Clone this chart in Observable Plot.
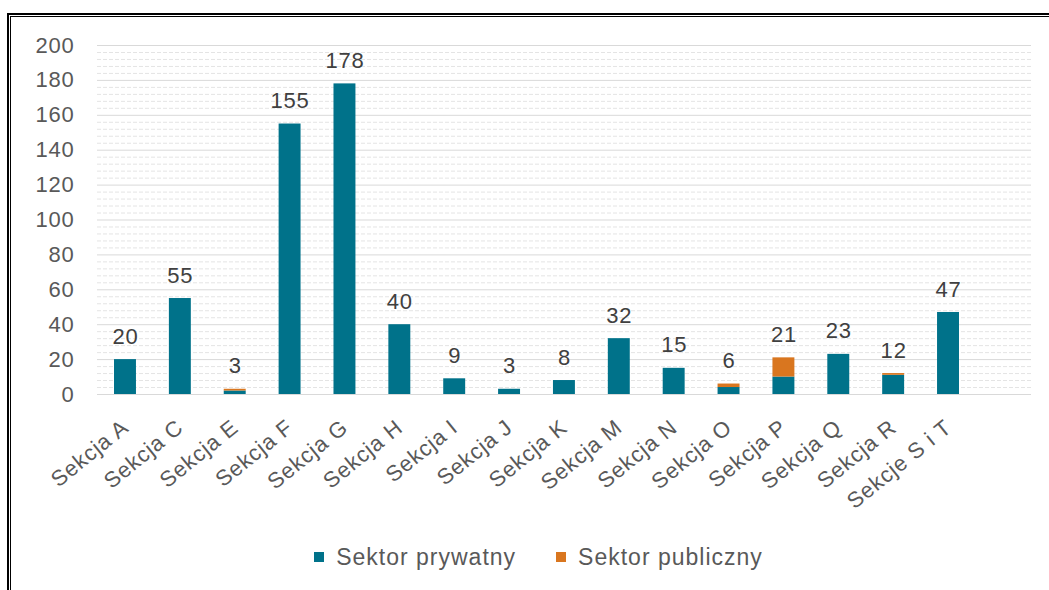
<!DOCTYPE html>
<html>
<head>
<meta charset="utf-8">
<script src="https://cdn.jsdelivr.net/npm/d3@7"></script>
<script src="https://cdn.jsdelivr.net/npm/@observablehq/plot@0.6"></script>
<style>
  html, body { margin: 0; padding: 0; background: #fff; overflow: hidden; width: 1049px; height: 590px; }
  #frame1 { position: absolute; left: 7px; top: 13px; width: 1100px; height: 700px; border-top: 2px solid #000; border-left: 2px solid #000; }
  #frame2 { position: absolute; left: 1px; top: 1px; width: 1100px; height: 700px; border-top: 1px solid #000; border-left: 1px solid #000; }
  #chart { position: absolute; left: 0; top: 0; }
  #chart svg text { letter-spacing: 0.8px; }
  #legend { position: absolute; left: 0; top: 540px; width: 1049px; height: 34px; display: flex; justify-content: center; align-items: center; padding-left: 28px; box-sizing: border-box; font-family: "Liberation Sans", Arial, sans-serif; font-size: 23px; color: #595959; letter-spacing: 1px; }
  .item { display: flex; align-items: center; margin: 0 20px; }
  .sw { width: 10px; height: 10px; margin-right: 12px; }
</style>
</head>
<body>
<div id="frame1"><div id="frame2"></div></div>
<div id="chart"></div>
<div id="legend"></div>
<script>
const categories = ["Sekcja A","Sekcja C","Sekcja E","Sekcja F","Sekcja G","Sekcja H","Sekcja I","Sekcja J","Sekcja K","Sekcja M","Sekcja N","Sekcja O","Sekcja P","Sekcja Q","Sekcja R","Sekcje S i T"];
const privateSector = [20, 55, 2, 155, 178, 40, 9, 3, 8, 32, 15, 4, 10, 23, 11, 47];
const publicSector  = [0, 0, 1, 0, 0, 0, 0, 0, 0, 0, 0, 2, 11, 0, 1, 0];
const seriesNames = ["Sektor prywatny", "Sektor publiczny"];
const seriesColors = ["#00728A", "#D9761F"];
const yTicks = [0, 20, 40, 60, 80, 100, 120, 140, 160, 180, 200];

const data = categories.flatMap((c, i) => [
  {cat: c, sector: seriesNames[0], value: privateSector[i]},
  {cat: c, sector: seriesNames[1], value: publicSector[i]}
]);
const totals = categories.map((c, i) => ({cat: c, total: privateSector[i] + publicSector[i]}));
const minorGrid = d3.range(0, 201, 4).filter(v => v % 20 !== 0);

const chart = Plot.plot({
  width: 1049,
  height: 520,
  marginLeft: 97,
  marginRight: 18,
  marginTop: 45,
  marginBottom: 126,
  style: {fontFamily: "Liberation Sans, Arial, sans-serif", fontSize: "22px", background: "transparent"},
  x: {domain: categories, range: [97, 976], paddingInner: 0.6, paddingOuter: 0.31, round: false},
  y: {domain: [0, 200]},
  color: {domain: seriesNames, range: seriesColors},
  marks: [
    Plot.ruleY(minorGrid, {stroke: "#e4e4e4", strokeDasharray: "4,2", strokeWidth: 1}),
    Plot.ruleY(yTicks, {stroke: "#d9d9d9", strokeWidth: 1}),
    Plot.axisY(yTicks, {tickSize: 0, tickPadding: 23, fill: "#595959", fontSize: 22, label: null}),
    Plot.axisX({tickSize: 0, tickRotate: -39, tickPadding: 30, fill: "#595959", fontSize: 22, label: null}),
    Plot.barY(data, {x: "cat", y: "value", fill: "sector"}),
    Plot.text(totals, {x: "cat", y: "total", text: d => String(d.total), dy: -23, fill: "#404040", fontSize: 22})
  ]
});
document.getElementById("chart").appendChild(chart);

const legend = document.getElementById("legend");
seriesNames.forEach((n, i) => {
  const it = document.createElement("div");
  it.className = "item";
  const sw = document.createElement("div");
  sw.className = "sw";
  sw.style.background = seriesColors[i];
  const t = document.createElement("span");
  t.textContent = n;
  it.appendChild(sw); it.appendChild(t);
  legend.appendChild(it);
});
</script>
</body>
</html>
